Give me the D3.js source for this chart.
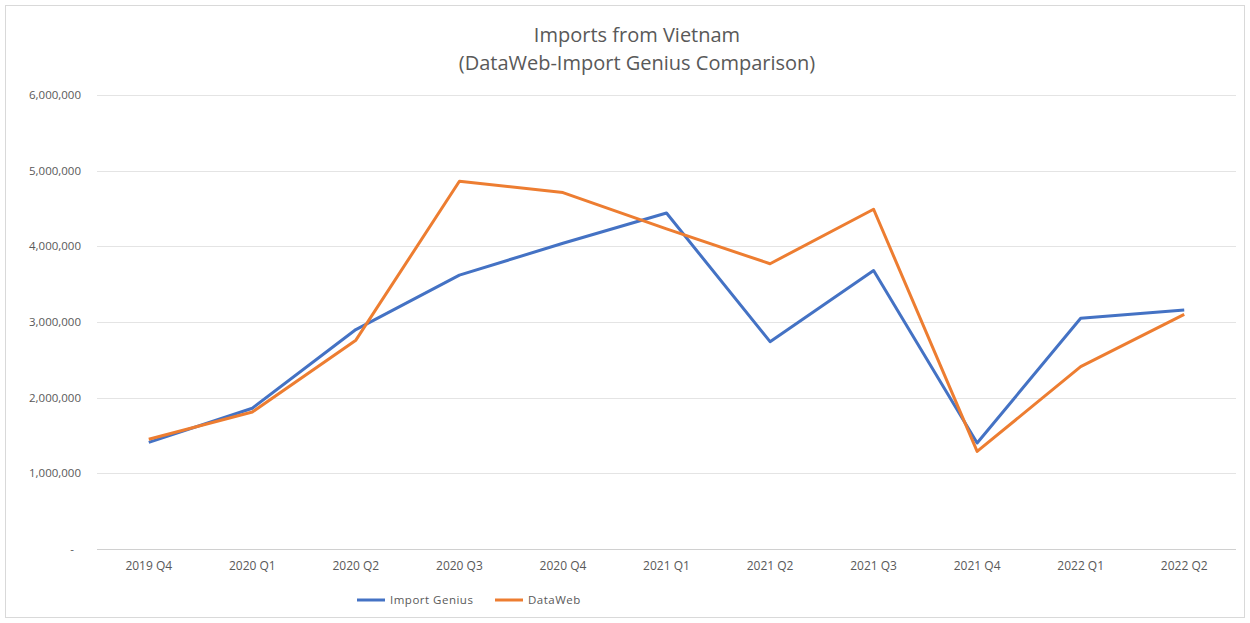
<!DOCTYPE html>
<html>
<head>
<meta charset="utf-8">
<script src="https://cdn.jsdelivr.net/npm/d3@7"></script>
<style>
  body { margin: 0; background: #fff; }
  text { font-family: "Open Sans", "Noto Sans", sans-serif; }
</style>
</head>
<body>
<div id="chart"></div>
<script>
var quarters = ["2019 Q4", "2020 Q1", "2020 Q2", "2020 Q3", "2020 Q4", "2021 Q1",
                "2021 Q2", "2021 Q3", "2021 Q4", "2022 Q1", "2022 Q2"];
var importGenius = [1410000, 1860000, 2900000, 3620000, 4040000, 4440000,
                    2740000, 3680000, 1400000, 3050000, 3160000];
var dataWeb = [1450000, 1810000, 2760000, 4860000, 4710000, 4230000,
               3770000, 4490000, 1290000, 2410000, 3100000];
var yTicks = [0, 1000000, 2000000, 3000000, 4000000, 5000000, 6000000];

var width = 1250,
    height = 623,
    margin = {top: 95, right: 14, bottom: 74, left: 97};

var series = [
  {name: "Import Genius", values: importGenius, color: "#4472C4"},
  {name: "DataWeb", values: dataWeb, color: "#ED7D31"}
];

var svg = d3.select("#chart").append("svg")
  .attr("width", width)
  .attr("height", height);

// outer chart frame
svg.append("rect")
  .attr("x", 5.5).attr("y", 5.5)
  .attr("width", width - 11).attr("height", height - 11)
  .style("fill", "#fff")
  .style("stroke", "#d9d9d9");

var x = d3.scaleBand()
  .domain(quarters)
  .range([margin.left, width - margin.right]);

var y = d3.scaleLinear()
  .domain([0, 6000000])
  .range([height - margin.bottom, margin.top]);

// gridlines
svg.append("g")
  .selectAll("line")
  .data(yTicks)
  .enter()
  .append("line")
  .attr("x1", margin.left)
  .attr("x2", width - margin.right)
  .attr("y1", function(d){ return Math.round(y(d)) + 0.5; })
  .attr("y2", function(d){ return Math.round(y(d)) + 0.5; })
  .style("stroke", function(d){ return d === 0 ? "#d0d0d0" : "#e4e4e4"; })
  .style("stroke-width", 1);

// y labels
var fmt = d3.format(",");
svg.append("g")
  .selectAll("text")
  .data(yTicks)
  .enter()
  .append("text")
  .attr("x", function(d){ return d === 0 ? 74 : 81; })
  .attr("y", function(d){ return y(d); })
  .attr("dy", "0.35em")
  .style("text-anchor", "end")
  .style("font-size", "11.5px")
  .style("fill", "#595959")
  .text(function(d){ return d === 0 ? "-" : fmt(d); });

// x labels
svg.append("g")
  .selectAll("text")
  .data(quarters)
  .enter()
  .append("text")
  .attr("x", function(d){ return x(d) + x.bandwidth() / 2; })
  .attr("y", 570)
  .style("text-anchor", "middle")
  .style("font-size", "12px")
  .style("fill", "#595959")
  .text(function(d){ return d; });

// lines
var line = d3.line()
  .x(function(d, i){ return x(quarters[i]) + x.bandwidth() / 2; })
  .y(function(d){ return y(d); });

svg.append("g")
  .selectAll("path")
  .data(series)
  .enter()
  .append("path")
  .attr("d", function(d){ return line(d.values); })
  .style("fill", "none")
  .style("stroke", function(d){ return d.color; })
  .style("stroke-width", 3)
  .style("stroke-linejoin", "round");

// title
svg.append("text")
  .attr("x", 637)
  .attr("y", 42)
  .style("text-anchor", "middle")
  .style("font-size", "20px")
  .style("fill", "#595959")
  .text("Imports from Vietnam");

svg.append("text")
  .attr("x", 637)
  .attr("y", 70)
  .style("text-anchor", "middle")
  .style("font-size", "20px")
  .style("fill", "#595959")
  .text("(DataWeb-Import Genius Comparison)");

// legend
var legendX = [357, 495];
var legend = svg.append("g")
  .selectAll("g")
  .data(series)
  .enter()
  .append("g")
  .attr("transform", function(d, i){ return "translate(" + legendX[i] + ",600)"; });

legend.append("line")
  .attr("x1", 0).attr("x2", 28)
  .attr("y1", 0).attr("y2", 0)
  .style("stroke", function(d){ return d.color; })
  .style("stroke-width", 3);

legend.append("text")
  .attr("x", 33)
  .attr("y", 0)
  .attr("dy", "0.35em")
  .style("font-size", "11.5px")
  .style("letter-spacing", "0.5px")
  .style("fill", "#595959")
  .text(function(d){ return d.name; });
</script>
</body>
</html>
